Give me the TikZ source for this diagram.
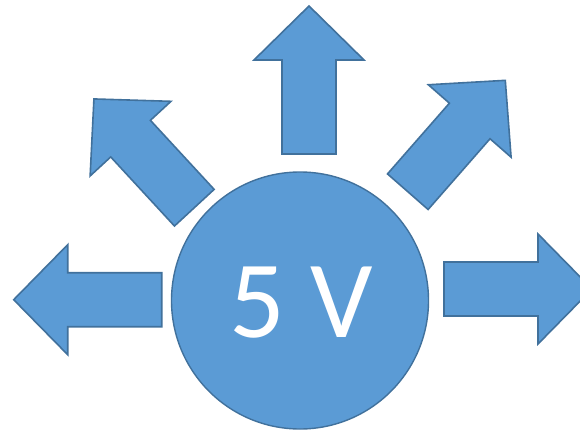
\documentclass[tikz,border=0pt]{standalone}
\usepackage{fontspec}
\setmainfont{Carlito}
\definecolor{fillblue}{HTML}{5B9BD5}
\definecolor{edgeblue}{HTML}{41719C}
\tikzset{
  arr/.style={fill=fillblue, draw=edgeblue, line width=1.6pt, line join=miter},
  hub/.style={circle, fill=fillblue, draw=edgeblue, line width=1.4pt, minimum size=257pt, inner sep=0pt},
  hubtext/.style={inner sep=0pt, text=white, font=\fontsize{110}{110}\selectfont}
}
\newcommand\blockarrow[3]{%
  \draw[arr, shift={(#1,#2)}, rotate=#3]
    (0,-27) -- (94,-27) -- (94,-55) -- (148,0) -- (94,55) -- (94,27) -- (0,27) -- cycle;}
\begin{document}
\begin{tikzpicture}[x=1pt,y=1pt]
  \useasboundingbox (0,0) rectangle (580,432);
  \clip (0,0) rectangle (580,432);
  \fill[white] (0,0) rectangle (580,432);
  \blockarrow{309}{278}{90}
  \blockarrow{161.7}{132.3}{180}
  \blockarrow{444}{143}{0}
  \blockarrow{194.3}{224.3}{132.7}
  \blockarrow{407.8}{240.3}{48.8}
  \node[hub] (c) at (300,131.5) {};
  \node[hubtext] (t) at (301.5,129.5) {5 V};
\end{tikzpicture}
\end{document}
